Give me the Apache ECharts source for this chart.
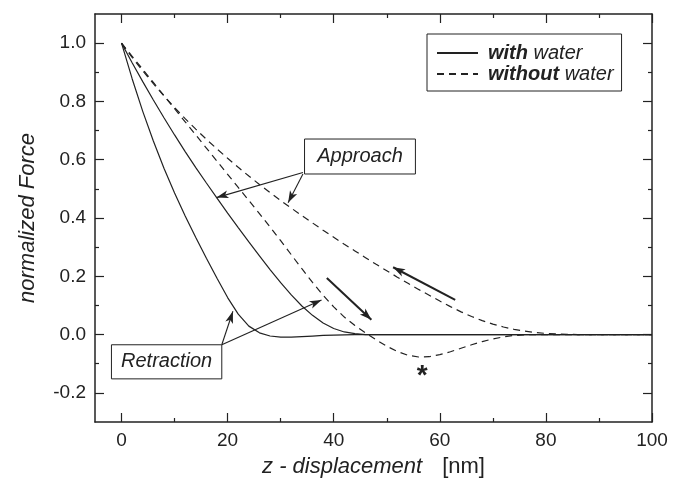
<!DOCTYPE html>
<html>
<head>
<meta charset="utf-8">
<script src="https://cdn.jsdelivr.net/npm/echarts@6/dist/echarts.min.js"></script>
<style>html,body{margin:0;padding:0;background:#fff;}#main{width:687px;height:485px;}</style>
</head>
<body>
<div id="main"></div>
<script>
// ---- data (z displacement in nm, normalized force) ----
const xWith = [0,2,4,6,8,10,12,14,16,18,20,22,24,26,28,30,32,34,36,38,40,42,44,46,50,60,70,80,90,100];
const withRetraction = [1.0,0.878,0.766,0.664,0.571,0.486,0.407,0.333,0.262,0.193,0.127,0.07,0.029,0.006,-0.005,-0.009,-0.009,-0.007,-0.005,-0.003,-0.002,-0.001,0,0,0,0,0,0,0,0];
const withApproach = [1.0,0.933,0.868,0.805,0.744,0.685,0.628,0.573,0.52,0.468,0.417,0.367,0.318,0.27,0.223,0.178,0.136,0.098,0.066,0.04,0.021,0.009,0.003,0,0,0,0,0,0,0];
const xWithout = [0,2,4,6,8,10,12,14,16,18,20,22,24,26,28,30,32,34,36,38,40,42,44,46,48,50,52,54,56,58,60,62,64,66,68,70,72,74,76,78,80,82,84,86,90,100];
const withoutRetraction = [1.0,0.955,0.91,0.865,0.82,0.775,0.73,0.685,0.64,0.595,0.55,0.505,0.46,0.415,0.369,0.322,0.274,0.226,0.179,0.135,0.095,0.06,0.031,0.006,-0.018,-0.04,-0.058,-0.071,-0.077,-0.076,-0.069,-0.059,-0.047,-0.035,-0.024,-0.015,-0.008,-0.003,-0.001,0,0,0,0,0,0,0];
const withoutApproach = [1.0,0.951,0.905,0.861,0.819,0.779,0.741,0.705,0.67,0.637,0.605,0.574,0.544,0.515,0.487,0.46,0.434,0.408,0.383,0.358,0.334,0.31,0.287,0.264,0.241,0.219,0.197,0.176,0.155,0.135,0.115,0.096,0.078,0.062,0.048,0.036,0.026,0.018,0.012,0.007,0.004,0.002,0.001,0,0,0];
const seriesNames = ['with water','without water'];

// ---- axis ticks ----
const xMajor = [0,20,40,60,80,100];
const xMinor = [10,30,50,70,90];
const yMajor = [-0.2,0,0.2,0.4,0.6,0.8,1.0];
const yMinor = [-0.1,0.1,0.3,0.5,0.7,0.9];

// ---- annotations (data coordinates) ----
const approachBox = {x0:34.5, x1:55.4, y0:0.671, y1:0.551, text:'Approach'};
const retractionBox = {x0:-1.9, x1:18.9, y0:-0.035, y1:-0.152, text:'Retraction'};
const pointerArrows = [
  [[34.2,0.556],[17.9,0.47]],
  [[34.2,0.551],[31.4,0.452]],
  [[18.9,-0.035],[21.0,0.08]],
  [[18.9,-0.035],[37.7,0.119]]
];
const directionArrows = [
  [[38.7,0.194],[47.1,0.051]],
  [[62.9,0.119],[51.2,0.231]]
];
const starPos = [56.7,-0.126];

const FONT = '"Liberation Sans", Arial, sans-serif';
const INK = '#222';

function zip(xs, ys){ return xs.map((x,i)=>[x, ys[i]]); }

function xAx(pos, ticks, len, main){
  return {
    type:'value', gridIndex:0, position:pos, min:-5, max:100,
    name: main && pos==='bottom' ? '{i|z - displacement}      {r|[nm]}' : '',
    nameLocation:'middle', nameGap:34,
    nameTextStyle:{ rich:{
      i:{fontFamily:FONT,fontSize:22,fontStyle:'italic',color:INK},
      r:{fontFamily:FONT,fontSize:22,color:INK}}},
    axisLine:{show:main, onZero:false, lineStyle:{color:INK,width:1.5}},
    axisTick:{show:true, inside:true, length:len, customValues:ticks, lineStyle:{color:INK,width:1.2}},
    axisLabel:{show: main && pos==='bottom', customValues:ticks, margin:9, fontFamily:FONT, fontSize:19, color:INK},
    splitLine:{show:false}, minorTick:{show:false}
  };
}
function yAx(pos, ticks, len, main){
  return {
    type:'value', gridIndex:0, position:pos, min:-0.3, max:1.1,
    name: main && pos==='left' ? 'normalized Force' : '',
    nameLocation:'middle', nameGap:56,
    nameTextStyle:{fontFamily:FONT,fontSize:22,fontStyle:'italic',color:INK},
    axisLine:{show:main, onZero:false, lineStyle:{color:INK,width:1.5}},
    axisTick:{show:true, inside:true, length:len, customValues:ticks, lineStyle:{color:INK,width:1.2}},
    axisLabel:{show: main && pos==='left', customValues:ticks, margin:9, fontFamily:FONT, fontSize:19, color:INK,
      formatter:(v)=>v.toFixed(1)},
    splitLine:{show:false}, minorTick:{show:false}
  };
}

function lineSeries(name, xs, ys, dashed, extra){
  return Object.assign({
    type:'line', name:name, xAxisIndex:0, yAxisIndex:0,
    data: zip(xs, ys), symbol:'none', smooth:false,
    lineStyle:{color:INK, width:1.2, type: dashed ? [7,5] : 'solid'},
    itemStyle:{color:INK}, animation:false, silent:true, z:3
  }, extra||{});
}

const arrowLines = pointerArrows.map(a=>[{coord:a[0], lineStyle:{width:1.1}},{coord:a[1]}])
  .concat(directionArrows.map(a=>[{coord:a[0], lineStyle:{width:2}},{coord:a[1]}]));

const option = {
  backgroundColor:'#fff',
  animation:false,
  grid:{left:95, right:35, top:14, bottom:63, containLabel:false},
  xAxis:[ xAx('bottom',xMajor,9,true), xAx('bottom',xMinor,4,false), xAx('top',xMajor,9,true), xAx('top',xMinor,4,false) ],
  yAxis:[ yAx('left',yMajor,9,true), yAx('left',yMinor,4,false), yAx('right',yMajor,9,true), yAx('right',yMinor,4,false) ],
  legend:{
    show:true, orient:'vertical', left:427, top:34,
    data:seriesNames, itemWidth:41, itemHeight:4, itemGap:1,
    itemStyle:{opacity:0},
    borderColor:INK, borderWidth:1, borderRadius:0, padding:[9,8,7,9],
    backgroundColor:'#fff', selectedMode:false,
    formatter:(n)=> n==='with water' ? '{b|with} {n|water}' : '{b|without} {n|water}',
    textStyle:{fontFamily:FONT, fontSize:20, fontStyle:'italic', color:INK, padding:[0,0,0,5],
      rich:{ b:{fontFamily:FONT,fontSize:20,fontStyle:'italic',fontWeight:'bold',color:INK},
             n:{fontFamily:FONT,fontSize:20,fontStyle:'italic',color:INK}}}
  },
  series:[
    lineSeries(seriesNames[0], xWith, withRetraction, false, {
      markLine:{ silent:true, symbol:['none','arrow'], symbolSize:[6,12], animation:false,
        label:{show:false}, lineStyle:{color:INK, type:'solid', width:1.1}, emphasis:{disabled:true},
        data: arrowLines }
    }),
    lineSeries(seriesNames[0], xWith, withApproach, false),
    lineSeries(seriesNames[1], xWithout, withoutRetraction, true),
    lineSeries(seriesNames[1], xWithout, withoutApproach, true)
  ]
};

const chart = echarts.init(document.getElementById('main'), null, {renderer:'canvas'});
chart.setOption(option);

function px(p){ return chart.convertToPixel({seriesIndex:0}, p); }
function boxGraphic(b){
  const a = px([b.x0,b.y0]), c = px([b.x1,b.y1]);
  return [
    {type:'rect', z:10, shape:{x:a[0], y:a[1], width:c[0]-a[0], height:c[1]-a[1]},
     style:{fill:'#fff', stroke:INK, lineWidth:1}},
    {type:'text', z:11, x:(a[0]+c[0])/2, y:(a[1]+c[1])/2,
     style:{text:b.text, fill:INK, font:'italic 20px '+FONT, align:'center', verticalAlign:'middle'}}
  ];
}
const sp = px(starPos);
chart.setOption({graphic: [].concat(boxGraphic(approachBox), boxGraphic(retractionBox), [
  {type:'text', z:11, x:sp[0], y:sp[1]+5, style:{text:'*', fill:INK, font:'bold 28px '+FONT, align:'center', verticalAlign:'middle'}}
])});
</script>
</body>
</html>
